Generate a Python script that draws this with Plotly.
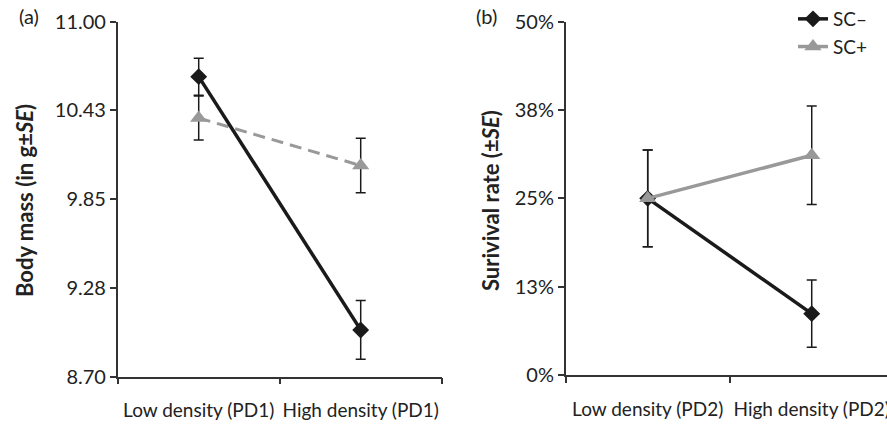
import plotly.graph_objects as go

cats_a = ["Low density (PD1)", "High density (PD1)"]
cats_b = ["Low density (PD2)", "High density (PD2)"]

mass_sc_minus = [10.644, 9.003]
mass_sc_minus_se = [0.12, 0.19]
mass_sc_plus = [10.376, 10.068]
mass_sc_plus_se = [0.143, 0.177]

surv_sc_minus = [25.0, 8.68]
surv_sc_minus_se = [6.84, 4.76]
surv_sc_plus = [25.0, 31.1]
surv_sc_plus_se = [6.84, 6.96]

mass_ticks = [8.70, 9.275, 9.85, 10.425, 11.00]
mass_ticklabels = ["8.70", "9.28", "9.85", "10.43", "11.00"]
surv_ticks = [0, 12.5, 25, 37.5, 50]
surv_ticklabels = ["0%", "13%", "25%", "38%", "50%"]

FONT = "Lato"
TXT = "#222222"
AX = "#333333"
BLACK = "#1a1a1a"
GRAY = "#999999"
W, H = 887, 424

fig = go.Figure()

def err(se):
    return dict(type="data", array=se, visible=True, color=BLACK, thickness=1.5, width=5)

# panel a
fig.add_trace(go.Scatter(x=cats_a, y=mass_sc_plus, error_y=err(mass_sc_plus_se), mode="lines+markers",
                         line=dict(color=GRAY, width=3, dash="12px,7px"),
                         marker=dict(symbol="triangle-up", size=15, color=GRAY),
                         showlegend=False, xaxis="x", yaxis="y"))
fig.add_trace(go.Scatter(x=cats_a, y=mass_sc_minus, error_y=err(mass_sc_minus_se), mode="lines+markers",
                         line=dict(color=BLACK, width=3.5),
                         marker=dict(symbol="diamond", size=13, color=BLACK),
                         showlegend=False, xaxis="x", yaxis="y"))
# panel b
fig.add_trace(go.Scatter(x=cats_b, y=surv_sc_minus, error_y=err(surv_sc_minus_se), mode="lines+markers",
                         line=dict(color=BLACK, width=3.5),
                         marker=dict(symbol="diamond", size=13, color=BLACK),
                         name="SC\u2013", xaxis="x2", yaxis="y2"))
fig.add_trace(go.Scatter(x=cats_b, y=surv_sc_plus, error_y=err(surv_sc_plus_se), mode="lines+markers",
                         line=dict(color=GRAY, width=3.5),
                         marker=dict(symbol="triangle-up", size=15, color=GRAY),
                         name="SC+", xaxis="x2", yaxis="y2"))

axis_common = dict(showline=True, linecolor=AX, linewidth=1.5, showgrid=False, zeroline=False,
                   ticks="outside", ticklen=6, tickwidth=1.5, tickcolor=AX)
xfont = dict(family=FONT, size=19, color=TXT)
yfont = dict(family=FONT, size=20, color=TXT)

fig.update_layout(
    width=W, height=H, margin=dict(l=0, r=0, t=0, b=0, autoexpand=False),
    paper_bgcolor="white", plot_bgcolor="white",
    font=dict(family=FONT, color=TXT),
    xaxis=dict(domain=[117.7 / W, 441.7 / W], anchor="y", type="category", range=[-0.5, 1.5],
               tickson="boundaries", ticklabelstandoff=16, tickangle=0, tickfont=xfont, **axis_common),
    yaxis=dict(domain=[1 - 376.7 / H, 1 - 21.7 / H], anchor="x", range=[8.70, 11.00], tickvals=mass_ticks,
               ticktext=mass_ticklabels, tickfont=yfont, **axis_common),
    xaxis2=dict(domain=[565.7 / W, 1.0], anchor="y2", type="category", range=[-0.5, 1.459],
                tickson="boundaries", ticklabelstandoff=16, tickangle=0, tickfont=xfont, **axis_common),
    yaxis2=dict(domain=[1 - 375 / H, 1 - 21.7 / H], anchor="x2", range=[0, 50], tickvals=surv_ticks,
                ticktext=surv_ticklabels, tickfont=yfont, **axis_common),
    legend=dict(x=793 / W, y=1.0, xanchor="left", yanchor="top", bgcolor="rgba(0,0,0,0)",
                font=dict(family=FONT, size=19, color=TXT), itemwidth=30),
    annotations=[
        dict(text="(a)", x=17 / W, y=1 - 16 / H, xref="paper", yref="paper", xanchor="left",
             yanchor="middle", showarrow=False, font=dict(family=FONT, size=20, color=TXT)),
        dict(text="(b)", x=474 / W, y=1 - 16 / H, xref="paper", yref="paper", xanchor="left",
             yanchor="middle", showarrow=False, font=dict(family=FONT, size=20, color=TXT)),
        dict(text="<b>Body mass (in g±<i>SE</i>)</b>", x=24 / W, y=1 - 201 / H, xref="paper", yref="paper",
             xanchor="center", yanchor="middle", textangle=-90, showarrow=False,
             font=dict(family=FONT, size=22, color=TXT)),
        dict(text="<b>Surivival rate (±<i>SE</i>)</b>", x=490 / W, y=1 - 201 / H, xref="paper", yref="paper",
             xanchor="center", yanchor="middle", textangle=-90, showarrow=False,
             font=dict(family=FONT, size=22, color=TXT)),
    ],
)

fig.write_html("out.html", config={"displayModeBar": False},
               post_script="document.body.style.margin='0px';document.body.style.overflow='hidden';")
